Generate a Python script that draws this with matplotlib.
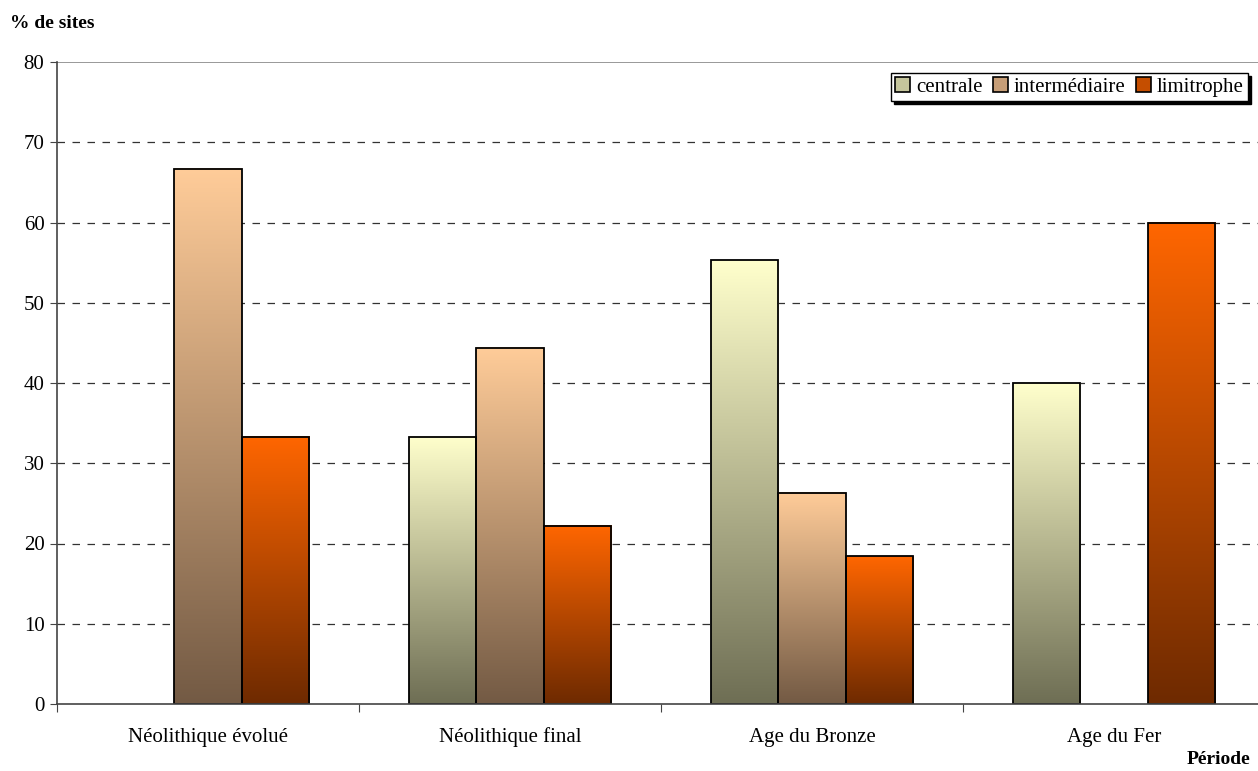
import numpy as np
import matplotlib
matplotlib.use("Agg")
import matplotlib.pyplot as plt
import matplotlib.transforms as mtransforms
from matplotlib.colors import LinearSegmentedColormap
from matplotlib.patches import Rectangle

plt.rcParams['font.family'] = ['Liberation Serif', 'DejaVu Serif']

periods = ["Néolithique évolué", "Néolithique final", "Age du Bronze", "Age du Fer"]
series = ["centrale", "intermédiaire", "limitrophe"]
centrale = [0.0, 33.3, 55.3, 40.0]
intermediaire = [66.7, 44.4, 26.3, 0.0]
limitrophe = [33.3, 22.2, 18.4, 60.0]
yticks = [0, 10, 20, 30, 40, 50, 60, 70, 80]

# top colour -> bottom colour of each series' vertical gradient
gradients = [("#FFFFCC", "#6E6E54"), ("#FFCC99", "#735A44"), ("#FF6600", "#6E2A00")]

W, H = 1258, 771
fig = plt.figure(figsize=(W / 100, H / 100), dpi=100)
ax = fig.add_axes([57 / W, 1 - 704 / H, (1265 - 57) / W, (704 - 62) / H])

n = len(periods)
width = 1 / 4.5
x = np.arange(n)
values = [centrale, intermediaire, limitrophe]

grad = np.linspace(1, 0, 256).reshape(-1, 1)
for i, (vals, (ctop, cbot), name) in enumerate(zip(values, gradients, series)):
    offs = x + (i - 1) * width
    cmap = LinearSegmentedColormap.from_list(name, [cbot, ctop])
    bars = ax.bar(offs, vals, width=width, facecolor="none", edgecolor="black",
                  linewidth=1.3, zorder=3, label=name)
    for b, v in zip(bars, vals):
        if v <= 0:
            b.set_linewidth(0)
            continue
        x0 = b.get_x()
        ax.imshow(grad, cmap=cmap, aspect="auto", origin="upper",
                  extent=(x0, x0 + width, 0, v), zorder=2, interpolation="bilinear")

ax.set_xlim(-0.5, n - 0.5)
ax.set_ylim(0, 80)

# grid
for yv in yticks[1:-1]:
    ax.axhline(yv, color="#333333", linestyle=(0, (6, 6)), linewidth=0.9, zorder=1)
ax.axhline(80, color="#888888", linewidth=1.2, zorder=1)

for s in ["right", "top"]:
    ax.spines[s].set_visible(False)
for s in ["left", "bottom"]:
    ax.spines[s].set_color("#444444")
    ax.spines[s].set_linewidth(1.2)
ax.spines["bottom"].set_zorder(4)

ax.set_yticks(yticks)
ax.set_yticklabels([str(t) for t in yticks], fontsize=15)
ax.tick_params(axis="y", direction="out", length=5, color="#444444", pad=4)

ax.set_xticks(np.arange(n + 1) - 0.5)
ax.set_xticklabels([])
ax.tick_params(axis="x", direction="out", length=6, color="#444444")

trans = mtransforms.blended_transform_factory(ax.transData, fig.transFigure)
for xi, lab in zip(x, periods):
    ax.text(xi, 1 - 742 / H, lab, transform=trans, ha="center", va="baseline",
            fontsize=15)

fig.text(10 / W, 1 - 24 / H, "% de sites", fontsize=14, fontweight="bold", va="center")
fig.text(1250 / W, 1 - 760 / H, "Période", fontsize=14, fontweight="bold",
         va="center", ha="right")

# legend with solid shadow
handles = []
for (ctop, cbot), name in zip(gradients, series):
    mid = LinearSegmentedColormap.from_list("m", [cbot, ctop])(0.6)
    handles.append(Rectangle((0, 0), 1, 1, facecolor=mid, edgecolor="black", linewidth=1.2))
leg = fig.legend(handles, series, loc="upper right", ncol=3,
                 bbox_to_anchor=(1248 / W, 1 - 73 / H), fontsize=15,
                 frameon=True, fancybox=False, shadow={"color": "black", "alpha": 1},
                 handlelength=0.7, handleheight=0.7, handletextpad=0.3,
                 columnspacing=0.5, borderpad=0.2, borderaxespad=0)
leg.get_frame().set_edgecolor("black")
leg.get_frame().set_linewidth(1.0)

fig.savefig("out.png", dpi=100)
